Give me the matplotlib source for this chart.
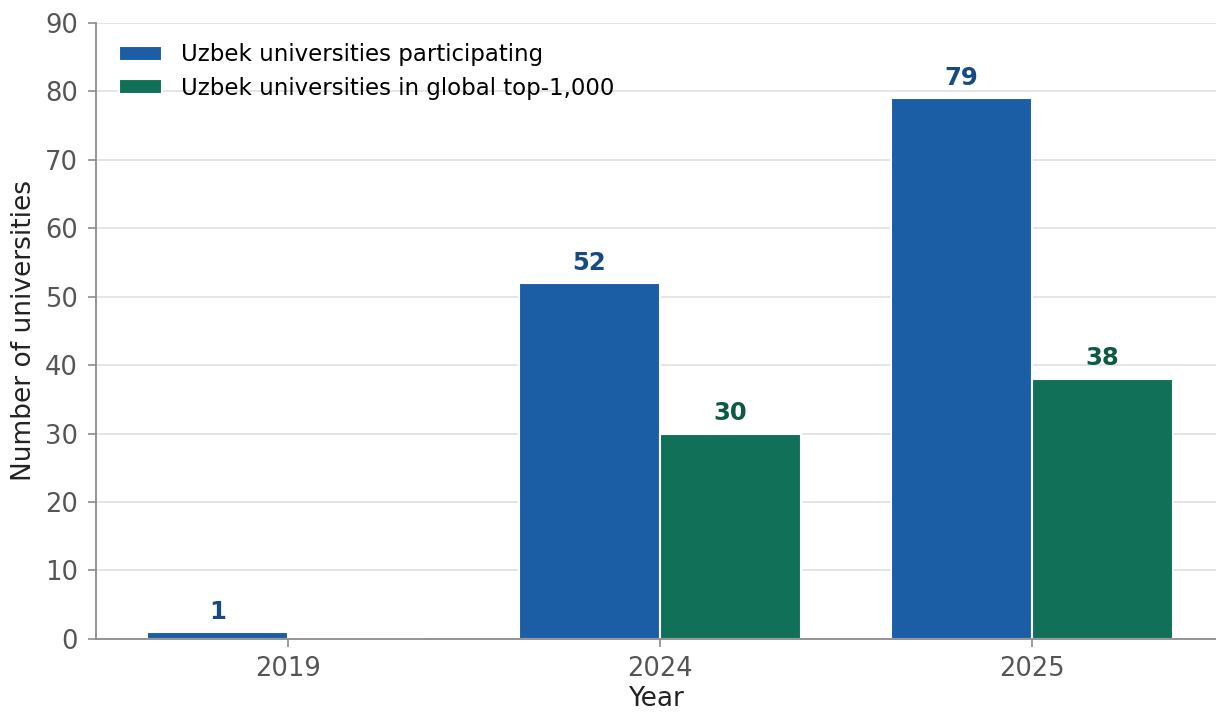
import matplotlib
matplotlib.use("Agg")
import matplotlib.pyplot as plt
import numpy as np

years = ["2019", "2024", "2025"]
participating = [1, 52, 79]
top_1000 = [0, 30, 38]
series_names = ["Uzbek universities participating", "Uzbek universities in global top-1,000"]

BLUE = "#1b5ea6"
GREEN = "#107158"
BLUE_TXT = "#164a82"
GREEN_TXT = "#0c5a45"
GRAY = "#555555"

fig = plt.figure(figsize=(12.16, 7.13), dpi=100)
ax = fig.add_axes([0.079, 0.104, 0.921, 0.864])

x = np.arange(len(years))
w = 0.38

b1 = ax.bar(x - w / 2, participating, w, color=BLUE, edgecolor="white", linewidth=1.5,
            label=series_names[0], zorder=3)
b2 = ax.bar(x + w / 2, top_1000, w, color=GREEN, edgecolor="white", linewidth=1.5,
            label=series_names[1], zorder=3)

for bars, vals, col in [(b1, participating, BLUE_TXT), (b2, top_1000, GREEN_TXT)]:
    for rect, v in zip(bars, vals):
        if v <= 0:
            continue
        ax.annotate(str(v), (rect.get_x() + rect.get_width() / 2, v),
                    xytext=(0, 6), textcoords="offset points",
                    ha="center", va="bottom", fontsize=17.5, fontweight="bold", color=col)

ax.set_xlim(-0.516, 2.495)
ax.set_ylim(0, 90)
ax.set_yticks(range(0, 91, 10))
ax.set_xticks(x)
ax.set_xticklabels(years)

ax.yaxis.grid(True, color="#e3e3e3", linewidth=1.3, zorder=0)
ax.set_axisbelow(True)
for s in ["top", "right"]:
    ax.spines[s].set_visible(False)
for s in ["left", "bottom"]:
    ax.spines[s].set_color("#8c8c8c")
    ax.spines[s].set_linewidth(1.3)
    ax.spines[s].set_zorder(4)

ax.tick_params(axis="both", colors="#8c8c8c", labelcolor=GRAY, labelsize=18.5, length=6, width=1.2)
ax.tick_params(axis="y", pad=7)
ax.tick_params(axis="x", pad=6)
ax.set_xlabel("Year", fontsize=19, color="#222222", labelpad=3)
ax.set_ylabel("Number of universities", fontsize=19, color="#222222", labelpad=6)

ax.legend(loc="upper left", frameon=False, fontsize=16.5, bbox_to_anchor=(0.002, 1.0),
          handlelength=1.9, handleheight=0.6, handletextpad=0.8, labelspacing=0.45)

fig.savefig("out.png", dpi=100)
